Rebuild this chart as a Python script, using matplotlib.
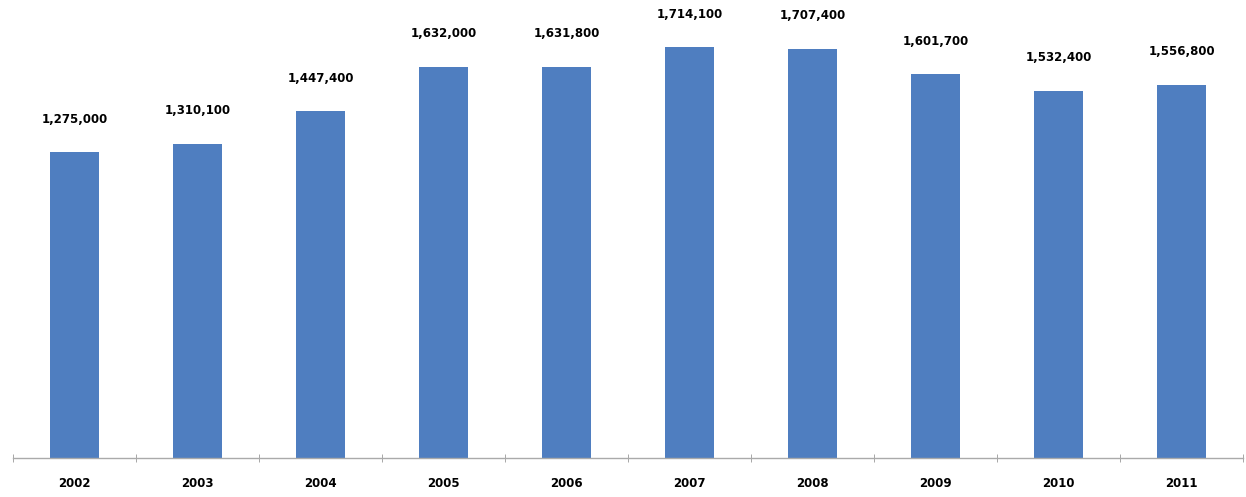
import matplotlib
matplotlib.use("Agg")
import matplotlib.pyplot as plt
import numpy as np

years = ["2002", "2003", "2004", "2005", "2006", "2007", "2008", "2009", "2010", "2011"]
values = [1275000, 1310100, 1447400, 1632000, 1631800, 1714100, 1707400, 1601700, 1532400, 1556800]

fig = plt.figure(figsize=(12.46, 4.97), dpi=100)
ax = fig.add_axes([13/1246, 39/497, 1230/1246, 431.6/497])

x = np.arange(len(years))
bars = ax.bar(x, values, width=0.40, color="#4F7EC0", zorder=2)

for xi, v in zip(x, values):
    ax.annotate(f"{v:,}", (xi, v), xytext=(0, 19), textcoords="offset points",
                ha="center", va="bottom", fontsize=8.5, fontweight="bold",
                color="black", annotation_clip=False)

ax.set_xlim(-0.5, len(years) - 0.5)
ax.set_ylim(0, 1800000)
ax.set_xticks(x)
ax.set_xticklabels(years, fontsize=8.5, fontweight="bold")
ax.set_xticks(np.arange(-0.5, len(years), 1.0), minor=True)
ax.tick_params(axis="x", which="major", length=0, pad=14)
ax.tick_params(axis="x", which="minor", length=6, direction="inout", color="#999999")
ax.set_yticks([])
for s in ["top", "right", "left"]:
    ax.spines[s].set_visible(False)
ax.spines["bottom"].set_color("#AAAAAA")
ax.spines["bottom"].set_linewidth(1.0)

fig.savefig("out.png", dpi=100)
